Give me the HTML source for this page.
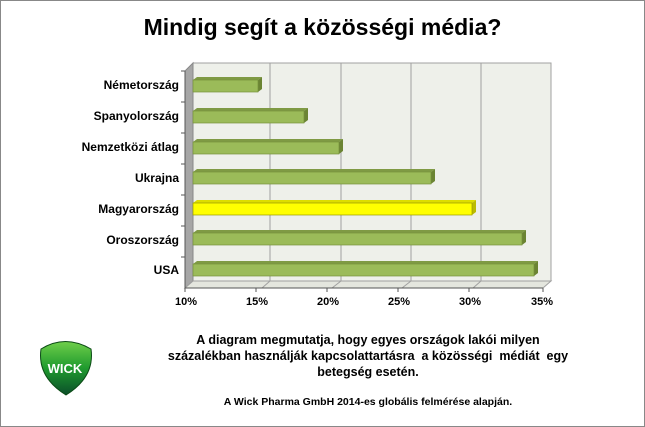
<!DOCTYPE html>
<html><head><style>
body{margin:0;background:#fff;}
.wrap{position:relative;width:643px;height:425px;border:1px solid #888;font-family:"Liberation Sans",Arial,sans-serif;overflow:hidden;}
.t{position:absolute;font-weight:bold;color:#000;white-space:nowrap;}
</style></head><body><div class="wrap">
<div class="t" style="left:0;width:643px;top:13px;text-align:center;font-size:23px;">Mindig segít a közösségi média?</div>
<svg width="643" height="425" style="position:absolute;left:0;top:0">
<polygon points="192,62 550,62 550,280 192,280" fill="#eef0ea" stroke="#a0a0a0"/>
<polygon points="184,70 192,62 192,280 184,287" fill="#a6a6a6" stroke="#888"/>
<polygon points="184,287 192,280 550,280 542,287" fill="#e4e6de" stroke="#a0a0a0"/>
<g stroke="#a0a0a0">
<line x1="269" y1="62" x2="269" y2="280"/><line x1="340" y1="62" x2="340" y2="280"/>
<line x1="410" y1="62" x2="410" y2="280"/><line x1="480" y1="62" x2="480" y2="280"/>
<line x1="261" y1="287" x2="269" y2="280"/><line x1="331" y1="287" x2="340" y2="280"/>
<line x1="401" y1="287" x2="410" y2="280"/><line x1="472" y1="287" x2="480" y2="280"/>
</g>
<g stroke="#555">
<line x1="184" y1="287" x2="542" y2="287"/>
<line x1="184" y1="70" x2="184" y2="287"/>
<line x1="180" y1="70" x2="184" y2="70"/><line x1="180" y1="101" x2="184" y2="101"/>
<line x1="180" y1="132" x2="184" y2="132"/><line x1="180" y1="163" x2="184" y2="163"/>
<line x1="180" y1="194" x2="184" y2="194"/><line x1="180" y1="225" x2="184" y2="225"/>
<line x1="180" y1="256" x2="184" y2="256"/>
<line x1="184" y1="287" x2="184" y2="291"/><line x1="255" y1="287" x2="255" y2="291"/>
<line x1="326" y1="287" x2="326" y2="291"/><line x1="397" y1="287" x2="397" y2="291"/>
<line x1="468" y1="287" x2="468" y2="291"/><line x1="542" y1="287" x2="542" y2="291"/>
</g>
<g id="bars"></g>
<defs><linearGradient id="lg" x1="0" y1="0" x2="0" y2="1"><stop offset="0" stop-color="#6fcf4a"/><stop offset="0.5" stop-color="#1f9a2e"/><stop offset="1" stop-color="#0b4e2a"/></linearGradient></defs>
<path d="M40,348 Q64,333 90,348 Q94,376 65,394 Q36,376 40,348Z" fill="url(#lg)" stroke="#0a4a14"/>
<text x="64" y="372" text-anchor="middle" font-family="Liberation Sans" font-weight="bold" font-size="13" fill="#fff">WICK</text>
</svg>
<script>
var d=[[85,257,0],[116,303,0],[147,338,0],[177,430,0],[208,471,1],[238,521,0],[269,533,0]];
var s='';
d.forEach(function(b){var y=b[0]-6,x=b[1],f=b[2]?'#ffff00':'#9bbb59',tp=b[2]?'#dddd00':'#7f9a44',sd=b[2]?'#bbbb00':'#6b8433';
s+='<polygon points="192,'+y+' 196,'+(y-3)+' '+(x+4)+','+(y-3)+' '+x+','+y+'" fill="'+tp+'"/>';
s+='<polygon points="'+x+','+y+' '+(x+4)+','+(y-3)+' '+(x+4)+','+(y+9)+' '+x+','+(y+12)+'" fill="'+sd+'"/>';
s+='<rect x="192" y="'+y+'" width="'+(x-192)+'" height="12" fill="'+f+'" stroke="'+(b[2]?'#999900':'#76923c')+'" stroke-width="0.7"/>';});
document.getElementById('bars').innerHTML=s;
</script>
<div class="t" style="right:465px;top:77px;font-size:12px;">Németország</div>
<div class="t" style="right:465px;top:108px;font-size:12px;">Spanyolország</div>
<div class="t" style="right:465px;top:139px;font-size:12px;">Nemzetközi átlag</div>
<div class="t" style="right:465px;top:170px;font-size:12px;">Ukrajna</div>
<div class="t" style="right:465px;top:201px;font-size:12px;">Magyarország</div>
<div class="t" style="right:465px;top:232px;font-size:12px;">Oroszország</div>
<div class="t" style="right:465px;top:262px;font-size:12px;">USA</div>
<div class="t" style="left:169px;top:295px;font-size:11px;width:32px;text-align:center">10%</div>
<div class="t" style="left:240px;top:295px;font-size:11px;width:32px;text-align:center">15%</div>
<div class="t" style="left:311px;top:295px;font-size:11px;width:32px;text-align:center">20%</div>
<div class="t" style="left:382px;top:295px;font-size:11px;width:32px;text-align:center">25%</div>
<div class="t" style="left:453px;top:295px;font-size:11px;width:32px;text-align:center">30%</div>
<div class="t" style="left:525px;top:295px;font-size:11px;width:32px;text-align:center">35%</div>
<div class="t" style="left:87px;width:560px;top:331px;text-align:center;font-size:12.5px;line-height:16px;white-space:normal">A diagram megmutatja, hogy egyes országok lakói milyen<br>százalékban használják kapcsolattartásra&nbsp; a közösségi&nbsp; médiát&nbsp; egy<br>betegség esetén.</div>
<div class="t" style="left:87px;width:560px;top:395px;text-align:center;font-size:10.5px;">A Wick Pharma GmbH 2014-es globális felmérése alapján.</div>
</div></body></html>
